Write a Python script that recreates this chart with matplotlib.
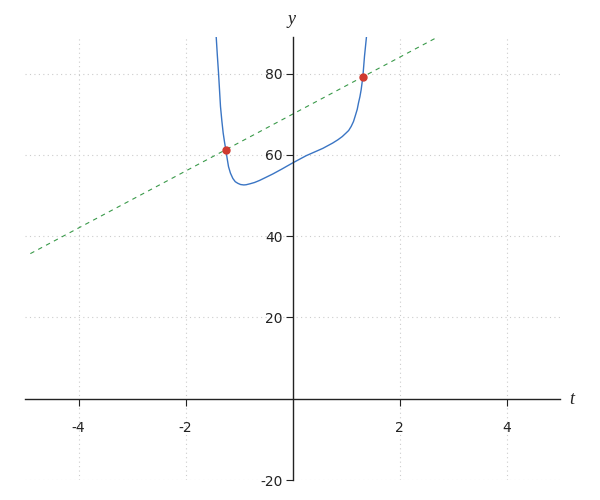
import matplotlib.pyplot as plt

plt.rcParams['axes.unicode_minus'] = False

# --- Data ---
curve_t = [-1.44, -1.426, -1.405, -1.383, -1.346, -1.32, -1.296, -1.27, -1.246,
           -1.22, -1.196, -1.16, -1.115, -1.07, -1.022, -0.97, -0.91, -0.866,
           -0.79, -0.71, -0.617, -0.523, -0.368, -0.2, -0.013, 0.256, 0.567,
           0.75, 0.847, 0.93, 1.003, 1.05, 1.097, 1.14, 1.171, 1.21, 1.234,
           1.26, 1.283, 1.315, 1.346, 1.383, 1.40]
curve_y = [95.0, 89.0, 84.5, 80.2, 71.9, 68.3, 65.4, 63.1, 61.2,
           59.0, 57.1, 55.5, 54.2, 53.4, 53.0, 52.7, 52.6, 52.65,
           52.9, 53.2, 53.7, 54.3, 55.3, 56.5, 57.9, 59.8, 61.6,
           62.9, 63.7, 64.5, 65.4, 66.0, 67.0, 68.2, 69.5, 71.2, 72.8,
           74.3, 76.0, 79.2, 84.3, 89.1, 95.0]

line_t = [-4.9, 4.9]
line_y = [35.7, 104.3]

pts_t = [-1.25, 1.31]
pts_y = [61.2, 79.2]

xticks = [-4, -2, 2, 4]
yticks = [-20, 20, 40, 60, 80]

# --- Figure ---
fig = plt.figure(figsize=(6, 5), dpi=100)
ax = fig.add_axes([25/600, 20/500, 535/600, 443/500])

ax.plot(line_t, line_y, color='#3a9a4a', lw=0.8, dashes=(4, 4))
ax.plot(curve_t, curve_y, color='#3a75c4', lw=1.0)
ax.plot(pts_t, pts_y, 'o', color='#d03a30', ms=5, zorder=5)

ax.set_xlim(-5, 5)
ax.set_ylim(-20, 89)

ax.spines['left'].set_position(('data', 0))
ax.spines['bottom'].set_position(('data', 0))
ax.spines['top'].set_visible(False)
ax.spines['right'].set_visible(False)
for s in ('left', 'bottom'):
    ax.spines[s].set_color('#222222')
    ax.spines[s].set_linewidth(1.0)

ax.set_xticks(xticks)
ax.set_yticks(yticks)
ax.tick_params(axis='x', direction='out', length=5, pad=11, labelsize=10, colors='#222222')
ax.tick_params(axis='y', direction='out', length=5, pad=2, labelsize=10, colors='#222222')
ax.grid(True, color='#cccccc', linestyle=(0, (1, 3)), lw=0.8)

ax.text(572/600, 1 - 400/500, 't', transform=fig.transFigure, ha='center', va='center',
        fontsize=13, family='Liberation Serif', style='italic', color='#222222')
ax.text(292/600, 1 - 20/500, 'y', transform=fig.transFigure, ha='center', va='center',
        fontsize=13, family='Liberation Serif', style='italic', color='#222222')

fig.savefig('out.png', dpi=100)
